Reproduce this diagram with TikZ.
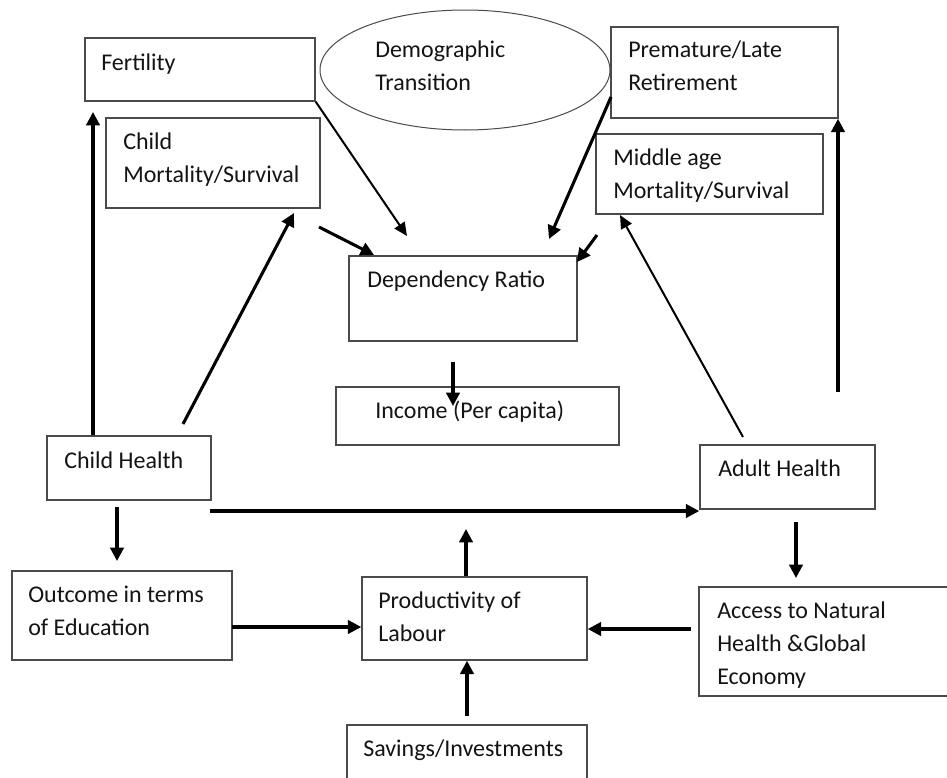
\documentclass[tikz,border=0pt]{standalone}
\usepackage{fontspec}
\setmainfont{Carlito}
\usetikzlibrary{arrows.meta,fit,shapes.geometric}
\definecolor{boxgray}{HTML}{4A4A4A}
\definecolor{txt}{HTML}{141414}
\begin{document}
\begin{tikzpicture}[x=0.75pt,y=-0.75pt,
  box/.style={draw=boxgray,line width=1.1pt,inner sep=0pt},
  lbl/.style={anchor=base west,inner sep=0pt,align=left,text=txt,
    font=\fontsize{18}{24.75}\selectfont},
  bigarrow/.style={line width=2.3pt,-{Triangle[length=10pt,width=10pt]}},
  smallarrow/.style={line width=1.5pt,-{Triangle[length=10pt,width=9pt]}}]
\useasboundingbox (0,0) rectangle (947,778);
\clip (0,0) rectangle (947,778);
\fill[white] (0,0) rectangle (947,778);

% boxes
\node[box,fit={(85,38)(315,101)}] (fert) {};
\node[draw=boxgray,line width=0.75pt,ellipse,minimum width=217.5pt,minimum height=90pt,inner sep=0pt] (demo) at (465,70) {};
\node[box,fit={(611,27)(838,118)}] (prem) {};
\node[box,fit={(106,118)(320,208)}] (chm) {};
\node[box,fit={(596,134)(823,214)}] (mid) {};
\node[box,fit={(349,256)(577,341)}] (dep) {};
\node[box,fit={(336,387)(619,445)}] (inc) {};
\node[box,fit={(47,436)(211,500)}] (chh) {};
\node[box,fit={(700,445)(875,509)}] (adh) {};
\node[box,fit={(12,571)(232,660)}] (outc) {};
\node[box,fit={(362,577)(587,660)}] (prod) {};
\node[box,fit={(699,587)(960,696)}] (acc) {};
\node[box,fit={(347,725)(587,800)}] (sav) {};

% labels (anchor = baseline of the last line)
\node[lbl] (fertT) at (101,70) {Fertility};
\node[lbl] (demoT) at (375,90) {Demographic\\Transition};
\node[lbl] (premT) at (628,90) {Premature/Late\\Retirement};
\node[lbl] (chmT) at (123,182) {Child\\Mortality/Survival};
\node[lbl] (midT) at (613,198) {Middle age\\Mortality/Survival};
\node[lbl] (depT) at (367,287) {Dependency Ratio};
\node[lbl] (incT) at (375,418) {Income (Per capita)};
\node[lbl] (chhT) at (64,468) {Child Health};
\node[lbl] (adhT) at (718,476) {Adult Health};
\node[lbl] (outcT) at (28,635) {Outcome in terms\\of Education};
\node[lbl] (prodT) at (378,641) {Productivity of\\Labour};
\node[lbl] (accT) at (717,684) {Access to Natural\\Health \&Global\\Economy};
\node[lbl] (savT) at (363,756) {Savings/Investments};

% connector end points
\coordinate (t1) at (93,112);
\coordinate (s2) at (183,424);
\coordinate (t2) at (294,213);
\coordinate (t3) at (407,236);
\coordinate (s4) at (319,227);
\coordinate (t4) at (374,255);
\coordinate (s5) at (611,97);
\coordinate (t5) at (549,239);
\coordinate (s6) at (597,235);
\coordinate (t6) at (577,262);
\coordinate (s7) at (743,437);
\coordinate (t7) at (620,215);
\coordinate (s8) at (838,392);
\coordinate (s9) at (453,362);
\coordinate (t9) at (453,406);
\coordinate (s10) at (210,511);
\coordinate (s11) at (117,507);
\coordinate (t11) at (117,561);
\coordinate (s12) at (232,627);
\coordinate (t13) at (466,529);
\coordinate (s14) at (467,716);
\coordinate (s15) at (691,629);
\coordinate (s16) at (796,522);
\coordinate (t16) at (796,578);

% connectors
\draw[bigarrow] (chh.north -| t1) -- (t1);
\draw[bigarrow] (s2) -- (t2);
\draw[smallarrow] (fert.south east) -- (t3);
\draw[bigarrow] (s4) -- (t4);
\draw[bigarrow] (s5) -- (t5);
\draw[bigarrow] (s6) -- (t6);
\draw[smallarrow] (s7) -- (t7);
\draw[bigarrow] (s8) -- (s8 |- prem.south);
\draw[bigarrow] (s9) -- (t9);
\draw[bigarrow] (s10) -- (s10 -| adh.west);
\draw[bigarrow] (s11) -- (t11);
\draw[bigarrow] (s12) -- (s12 -| prod.west);
\draw[bigarrow] (prod.north -| t13) -- (t13);
\draw[bigarrow] (s14) -- (s14 |- prod.south);
\draw[bigarrow] (s15) -- (s15 -| prod.east);
\draw[bigarrow] (s16) -- (t16);
\end{tikzpicture}
\end{document}
